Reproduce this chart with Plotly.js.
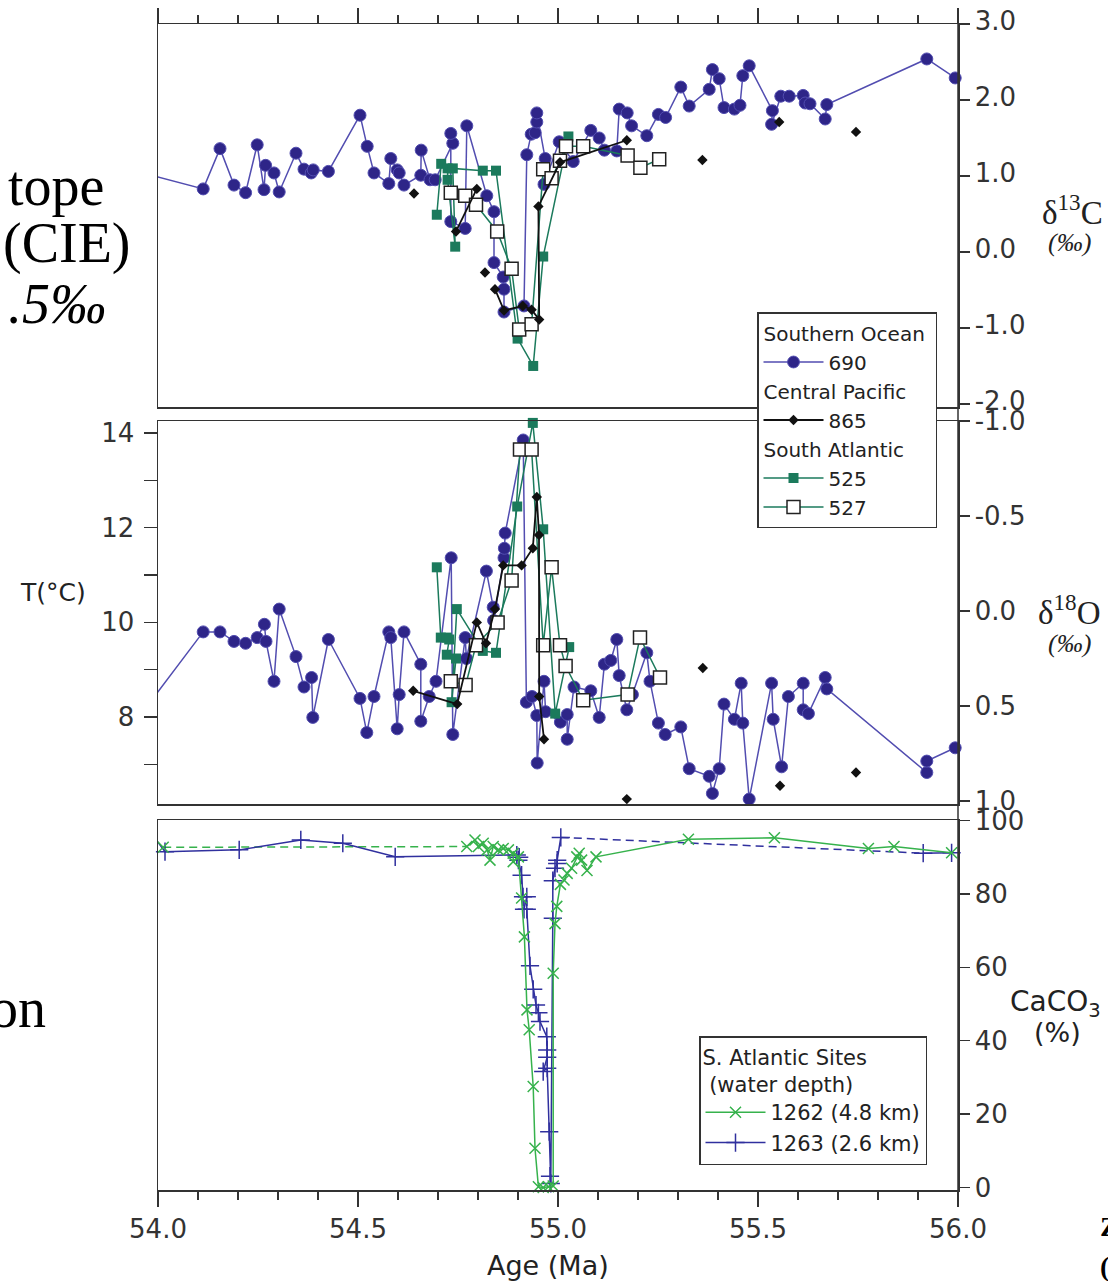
<!DOCTYPE html>
<html><head><meta charset="utf-8">
<script src="https://cdn.plot.ly/plotly-3.0.1.min.js"></script>
<style>html,body{margin:0;padding:0;background:#fff;} #chart{width:1108px;height:1281px;}</style>
</head><body><div id="chart"></div>
<script>
// ================= DATA =================
// ---- Top panel: delta13C (permil) ----
const age690C = [53.948,54.113,54.155,54.19,54.219,54.248,54.265,54.269,54.29,54.303,54.345,54.365,54.383,54.388,54.426,54.505,54.523,54.54,54.577,54.582,54.598,54.603,54.615,54.657,54.658,54.68,54.693,54.737,54.732,54.732,54.768,54.772,54.822,54.84,54.84,54.863,54.865,54.865,54.915,54.922,54.933,54.943,54.947,54.947,54.968,54.965,55.003,55.038,55.082,55.103,55.116,55.147,55.153,55.173,55.184,55.222,55.251,55.269,55.307,55.328,55.378,55.386,55.403,55.415,55.441,55.455,55.462,55.478,55.536,55.534,55.557,55.578,55.613,55.618,55.63,55.668,55.672,55.922,55.993];
const d13C690 = [1.06,0.83,1.36,0.88,0.78,1.41,0.82,1.14,1.04,0.79,1.30,1.09,1.04,1.08,1.06,1.80,1.39,1.04,0.90,1.23,1.08,1.04,0.88,1.01,1.34,0.95,0.95,1.43,1.56,0.40,0.31,1.66,0.74,0.53,-0.14,-0.33,-0.49,-0.79,-0.71,1.28,1.55,1.57,1.71,1.83,1.23,0.89,1.45,1.19,1.60,1.50,1.34,1.33,1.88,1.83,1.66,1.53,1.81,1.77,2.17,1.92,2.14,2.40,2.28,1.90,1.88,1.93,2.32,2.45,1.86,1.68,2.05,2.05,2.06,1.96,1.95,1.75,1.94,2.54,2.29];

const age865C = [54.64,null,54.745,54.797,null,54.8175,null,54.8425,54.865,54.912,54.934,54.953,54.951,55.005,55.172,null,55.361,null,55.553,null,55.745];
const d13C865 = [0.77,null,0.27,0.83,null,-0.27,null,-0.49,-0.77,-0.71,-0.76,-0.89,0.60,1.18,1.47,null,1.21,null,1.71,null,1.58];

const age525C = [54.697,54.708,54.724,54.724,54.743,54.737,54.812,54.845,54.899,54.938,54.963,55.026];
const d13C525 = [0.49,1.16,1.10,0.95,0.07,1.10,1.07,1.07,-1.14,-1.50,-0.06,1.52];

const age527C = [54.732,54.768,54.795,54.848,54.884,54.903,54.934,54.963,54.984,55.005,55.02,55.063,55.174,55.206,55.253];
const d13C527 = [0.78,0.74,0.62,0.27,-0.22,-1.02,-0.95,1.09,0.97,1.20,1.39,1.39,1.27,1.11,1.22];

// ---- Middle panel: delta18O (permil) ----
const age690O = [53.948,54.113,54.155,54.19,54.219,54.248,54.266,54.27,54.29,54.303,54.345,54.365,54.384,54.387,54.426,54.505,54.522,54.54,54.577,54.582,54.598,54.603,54.615,54.657,54.657,54.678,54.695,54.733,54.737,54.768,54.771,54.821,54.838,54.839,54.865,54.866,54.868,54.913,54.921,54.935,54.947,54.948,54.965,54.969,55.006,55.023,55.023,55.04,55.082,55.103,55.116,55.132,55.147,55.153,55.172,55.186,55.222,55.23,55.251,55.268,55.307,55.328,55.378,55.386,55.403,55.415,55.441,55.458,55.462,55.478,55.534,55.538,55.559,55.576,55.613,55.613,55.626,55.668,55.672,55.922,55.922,55.993];
const d18O690 = [0.57,0.11,0.11,0.16,0.17,0.14,0.07,0.16,0.37,-0.01,0.24,0.40,0.35,0.56,0.15,0.46,0.64,0.45,0.11,0.14,0.62,0.44,0.11,0.28,0.58,0.45,0.37,-0.28,0.65,0.14,0.25,-0.21,-0.02,0.05,-0.28,-0.33,-0.41,-0.90,0.48,0.45,0.55,0.80,0.37,0.53,0.585,0.545,0.675,0.40,0.42,0.56,0.28,0.26,0.15,0.34,0.52,0.44,0.22,0.37,0.59,0.65,0.61,0.83,0.87,0.96,0.83,0.49,0.57,0.38,0.59,0.99,0.38,0.57,0.82,0.45,0.38,0.52,0.54,0.35,0.41,0.85,0.79,0.72];

const age865O = [54.638,54.748,54.797,54.82,54.8425,54.863,54.909,54.937,54.947,54.9525,54.953,54.965,null,55.172,null,55.362,null,55.555,null,55.745];
const d18O865 = [0.42,0.49,0.06,0.17,-0.01,-0.24,-0.24,-0.33,-0.60,-0.40,0.45,0.675,null,0.99,null,0.30,null,0.92,null,0.85];

const age525O = [54.697,54.707,54.722,54.728,54.722,54.745,54.734,54.747,54.812,54.845,54.898,54.937,54.963,54.993,55.028];
const d18O525 = [-0.23,0.14,0.14,0.15,0.23,0.25,0.48,-0.01,0.21,0.22,-0.55,-0.99,-0.43,0.54,0.19];

const age527O = [54.732,54.769,54.795,54.849,54.884,54.905,54.934,54.963,54.984,55.005,55.019,55.063,55.174,55.205,55.255];
const d18O527 = [0.37,0.39,0.18,0.06,-0.16,-0.85,-0.85,0.18,-0.23,0.18,0.29,0.47,0.44,0.14,0.35];

// ---- Bottom panel: CaCO3 (%) ; null = data gap (drawn dashed) ----
const age1262 = [54.013,null,54.772,54.7925,54.801,54.813,54.823,54.83,54.838,54.851,54.863,54.876,54.888,54.888,54.901,54.909,54.916,54.9225,54.928,54.938,54.9425,54.951,54.963,54.976,54.988,54.988,54.9925,54.997,55.006,55.015,55.023,55.034,55.047,55.053,55.059,55.0725,55.095,55.326,55.541,55.776,55.84,55.984];
const caco31262 = [92.7,null,92.9,94.7,92.9,93.8,92.0,89.2,92.9,92.0,92.4,92.0,91.1,88.8,90.1,78.9,68.3,48.4,43.0,27.5,10.7,0.2,0.0,0.2,0.4,58.4,71.9,76.6,82.6,83.8,85.6,87.0,90.1,91.1,89.2,86.4,90.1,94.9,95.3,92.4,92.9,91.2];

const age1263 = [53.999,54.0175,54.203,54.357,54.462,54.593,54.897,54.903,54.901,54.909,54.9125,54.922,54.915,54.922,54.93,54.938,54.945,54.951,54.955,54.972,54.973,54.973,54.963,54.973,54.978,54.98,54.982,54.987,54.987,54.9925,54.998,54.998,55.007,null,55.913,55.984];
const caco31263 = [94.2,91.5,92.0,94.7,93.8,90.1,90.6,90.0,89.2,85.1,79.2,79.2,75.8,75.8,60.4,54.0,49.7,47.6,45.2,41.1,37.5,35.5,31.6,32.5,15.2,3.1,1.1,73.4,83.6,87.0,88.3,89.2,95.4,null,91.1,91.2];

// ---- Axis tick labels ----
const xTickVals = [54.0,54.5,55.0,55.5,56.0];
const xTickText = ['54.0','54.5','55.0','55.5','56.0'];
const cTickVals = [-2,-1,0,1,2,3];
const cTickText = ['-2.0','-1.0','0.0','1.0','2.0','3.0'];
const oTickVals = [-1,-0.5,0,0.5,1];
const oTickText = ['-1.0','-0.5','0.0','0.5','1.0'];
const tTickVals = [7,8,9,10,11,12,13,14];
const tTickText = ['','8','','10','','12','','14'];
const caTickVals = [0,20,40,60,80,100];
const caTickText = ['0','20','40','60','80','100'];

// ================= STYLE / LAYOUT =================
const C690 = '#2e2588', C690L = '#524db0', C865 = '#111111', CSA = '#1b7a5c',
      C1262 = '#36b24c', C1263 = '#30309e', AX = '#333333';
const FONT = 'DejaVu Sans';
const L = 158, R = 958, T = 24, B = 1190;
const px2x = px => (px - L) / (R - L);
const py2y = py => (B - py) / (B - T);

function sizes(ages, s) { return ages.map(a => (a === null || a < 54 || a > 56) ? 0 : s); }
function gapSegments(xs, ys) {
  const gx = [], gy = [];
  for (let i = 1; i < xs.length - 1; i++) {
    if (xs[i] === null) { gx.push(xs[i-1], xs[i+1], null); gy.push(ys[i-1], ys[i+1], null); }
  }
  return {x: gx, y: gy};
}

const traces = [];
// top panel
traces.push({x: age690C, y: d13C690, xaxis: 'x2', yaxis: 'y', mode: 'lines+markers', cliponaxis: false,
  line: {color: C690L, width: 1.5}, marker: {color: C690, size: sizes(age690C, 12), opacity: 1},
  name: '690', legendgroup: 'so', legendgrouptitle: {text: 'Southern Ocean'}, legendrank: 1});
traces.push({x: age525C, y: d13C525, xaxis: 'x2', yaxis: 'y', mode: 'lines+markers', cliponaxis: false,
  line: {color: CSA, width: 1.5}, marker: {color: CSA, symbol: 'square', size: 10},
  name: '525', legendgroup: 'sa', legendgrouptitle: {text: 'South Atlantic'}, legendrank: 3});
traces.push({x: age527C, y: d13C527, xaxis: 'x2', yaxis: 'y', mode: 'lines+markers', cliponaxis: false,
  line: {color: CSA, width: 1.5}, marker: {color: '#ffffff', symbol: 'square', size: 13, line: {color: '#222', width: 1.5}},
  name: '527', legendgroup: 'sa', legendrank: 4});
traces.push({x: age865C, y: d13C865, xaxis: 'x2', yaxis: 'y', mode: 'lines+markers', cliponaxis: false,
  line: {color: C865, width: 1.8}, marker: {color: C865, symbol: 'diamond', size: 8},
  name: '865', legendgroup: 'cp', legendgrouptitle: {text: 'Central Pacific'}, legendrank: 2});
// middle panel
traces.push({x: age690O, y: d18O690, xaxis: 'x3', yaxis: 'y3', mode: 'lines+markers', cliponaxis: false, showlegend: false,
  line: {color: C690L, width: 1.5}, marker: {color: C690, size: sizes(age690O, 12), opacity: 1}});
traces.push({x: age525O, y: d18O525, xaxis: 'x3', yaxis: 'y3', mode: 'lines+markers', cliponaxis: false, showlegend: false,
  line: {color: CSA, width: 1.5}, marker: {color: CSA, symbol: 'square', size: 10}});
traces.push({x: age527O, y: d18O527, xaxis: 'x3', yaxis: 'y3', mode: 'lines+markers', cliponaxis: false, showlegend: false,
  line: {color: CSA, width: 1.5}, marker: {color: '#ffffff', symbol: 'square', size: 13, line: {color: '#222', width: 1.5}}});
traces.push({x: age865O, y: d18O865, xaxis: 'x3', yaxis: 'y3', mode: 'lines+markers', cliponaxis: false, showlegend: false,
  line: {color: C865, width: 1.8}, marker: {color: C865, symbol: 'diamond', size: 8}});
traces.push({x: [], y: [], xaxis: 'x3', yaxis: 'y4', mode: 'markers', showlegend: false, hoverinfo: 'skip'});
// bottom panel
const g1263 = gapSegments(age1263, caco31263);
const g1262 = gapSegments(age1262, caco31262);
traces.push({x: g1263.x, y: g1263.y, xaxis: 'x', yaxis: 'y5', mode: 'lines', showlegend: false,
  line: {color: C1263, width: 1.5, dash: '8px,5px'}});
traces.push({x: g1262.x, y: g1262.y, xaxis: 'x', yaxis: 'y5', mode: 'lines', showlegend: false,
  line: {color: C1262, width: 1.5, dash: '8px,5px'}});
traces.push({x: age1263, y: caco31263, xaxis: 'x', yaxis: 'y5', mode: 'lines+markers', cliponaxis: false,
  line: {color: C1263, width: 1.5}, marker: {symbol: 'cross-thin', size: 13, color: C1263, line: {color: C1263, width: 1.5}},
  name: '1263 (2.6 km)', legend: 'legend2', legendrank: 2});
traces.push({x: age1262, y: caco31262, xaxis: 'x', yaxis: 'y5', mode: 'lines+markers', cliponaxis: false,
  line: {color: C1262, width: 1.5}, marker: {symbol: 'x-thin', size: 11, color: C1262, line: {color: C1262, width: 1.5}},
  name: '1262 (4.8 km)', legend: 'legend2', legendrank: 1});

const tickFont = {family: FONT, size: 26, color: '#333'};
const baseAx = {showline: true, linecolor: AX, linewidth: 1.5, showgrid: false, zeroline: false,
  tickcolor: AX, tickwidth: 1.5, tickfont: tickFont, fixedrange: true};
const minorX = {dtick: 0.1, tick0: 54, ticks: 'outside', ticklen: 8, tickwidth: 1.5, tickcolor: AX, showgrid: false};

const dTop = [py2y(407), 1], dMid = [py2y(804), py2y(421)], dBot = [0, py2y(820)];

const annFont = (size, fam, extra) => Object.assign({family: fam || FONT, size: size, color: '#222'}, extra || {});
const serif = 'Liberation Serif';
const annotations = [
  {text: 'T(°C)', x: px2x(53), y: py2y(592), font: annFont(25)},
  {text: 'Age (Ma)', x: px2x(548), y: py2y(1265), font: annFont(27)},
  {text: 'δ<sup>13</sup>C', x: px2x(1072), y: py2y(210), font: annFont(33, serif)},
  {text: '<i>(‰)</i>', x: px2x(1069), y: py2y(242), font: annFont(26, serif)},
  {text: 'δ<sup>18</sup>O', x: px2x(1069), y: py2y(610), font: annFont(33, serif)},
  {text: '<i>(‰)</i>', x: px2x(1069), y: py2y(643), font: annFont(26, serif)},
  {text: 'CaCO<sub>3</sub>', x: px2x(1008), xanchor: 'left', y: py2y(1003), font: annFont(28)},
  {text: '(%)', x: px2x(1057), y: py2y(1032), font: annFont(27)},
  {text: 'tope', x: px2x(106), xanchor: 'right', y: py2y(186), font: annFont(56, serif, {color: '#000'})},
  {text: '(CIE)', x: px2x(133), xanchor: 'right', y: py2y(244), font: annFont(56, serif, {color: '#000'})},
  {text: '<i>.5‰</i>', x: px2x(108), xanchor: 'right', y: py2y(304), font: annFont(56, serif, {color: '#000'})},
  {text: 'on', x: px2x(48), xanchor: 'right', y: py2y(1008), font: annFont(56, serif, {color: '#000'})},
  {text: '<b>Z</b>', x: px2x(1098), xanchor: 'left', y: py2y(1226), font: annFont(28, serif, {color: '#000'})},
  {text: '<b>(</b>', x: px2x(1098), xanchor: 'left', y: py2y(1266), font: annFont(28, serif, {color: '#000'})}
].map(a => Object.assign({xref: 'paper', yref: 'paper', showarrow: false, xanchor: 'center', yanchor: 'middle'}, a));

const layout = {
  width: 1108, height: 1281,
  margin: {l: L, r: 1108 - R, t: T, b: 1281 - B, pad: 0},
  paper_bgcolor: '#ffffff', plot_bgcolor: '#ffffff',
  font: {family: FONT, color: '#222'},
  hovermode: false,
  xaxis: Object.assign({}, baseAx, {domain: [0, 1], anchor: 'y5', range: [54, 56], side: 'bottom', mirror: true,
    ticks: 'outside', ticklen: 15, tickvals: xTickVals, ticktext: xTickText, minor: minorX, ticklabelstandoff: 0}),
  xaxis2: Object.assign({}, baseAx, {domain: [0, 1], anchor: 'y', range: [54, 56], side: 'top', mirror: true,
    ticks: 'outside', ticklen: 15, tickvals: xTickVals, showticklabels: false, minor: minorX}),
  xaxis3: Object.assign({}, baseAx, {domain: [0, 1], anchor: 'y3', range: [54, 56], mirror: true, ticks: '', showticklabels: false}),
  yaxis: Object.assign({}, baseAx, {domain: dTop, anchor: 'x2', side: 'right', mirror: true, range: [-2.04, 3.0],
    ticks: 'outside', ticklen: 10, tickvals: cTickVals, ticktext: cTickText, ticklabelshift: -3}),
  yaxis3: Object.assign({}, baseAx, {domain: dMid, anchor: 'x3', side: 'right', mirror: true, range: [1.0158, -1.0],
    ticks: 'outside', ticklen: 10, tickvals: oTickVals, ticktext: oTickText}),
  yaxis4: Object.assign({}, baseAx, {overlaying: 'y3', anchor: 'x3', side: 'left', range: [6.162, 14.254],
    ticks: 'outside', ticklen: 13, tickvals: tTickVals, ticktext: tTickText, ticklabelstandoff: 4}),
  yaxis5: Object.assign({}, baseAx, {domain: dBot, anchor: 'x', side: 'right', mirror: true, range: [-0.68, 100.14],
    ticks: 'outside', ticklen: 10, tickvals: caTickVals, ticktext: caTickText}),
  legend: {x: px2x(937), xanchor: 'right', y: py2y(312), yanchor: 'top', bgcolor: '#ffffff',
    bordercolor: AX, borderwidth: 1.5, font: {family: FONT, size: 20, color: '#222'},
    grouptitlefont: {family: FONT, size: 20, color: '#222'},
    traceorder: 'grouped', tracegroupgap: 0, itemwidth: 60, itemclick: false, itemdoubleclick: false},
  legend2: {x: px2x(927), xanchor: 'right', y: py2y(1036), yanchor: 'top', bgcolor: '#ffffff',
    bordercolor: AX, borderwidth: 1.5, font: {family: FONT, size: 21, color: '#222'},
    title: {text: 'S. Atlantic Sites<br> (water depth)', font: {family: FONT, size: 21, color: '#222'}},
    itemwidth: 60, itemclick: false, itemdoubleclick: false},
  shapes: [
    {type: 'line', xref: 'paper', yref: 'paper', x0: 1, x1: 1, y0: 0, y1: 1, line: {color: AX, width: 1.5}}
  ],
  annotations: annotations
};

Plotly.newPlot('chart', traces, layout, {staticPlot: true, displayModeBar: false});
</script>
</body></html>
